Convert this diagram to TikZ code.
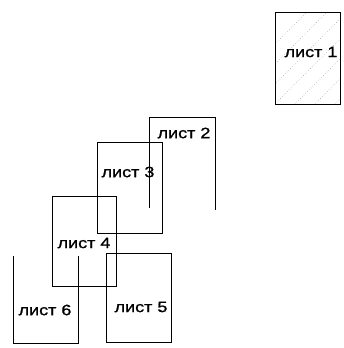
\documentclass[tikz,border=0pt]{standalone}
\usepackage{fontspec}
\setmainfont{Liberation Sans}[FakeStretch=1.2, FakeBold=1.2]
\usepackage{tikz}
\usetikzlibrary{calc}
\definecolor{hatchGray}{RGB}{150,150,150}

\begin{document}
\begin{tikzpicture}[x=1pt, y=-1pt, line width=0.8pt,
    lbl/.style={font=\fontsize{15}{17}\selectfont, inner sep=0pt}]
    \useasboundingbox (0,0) rectangle (343,348);
    % sheet 1, hatched
    \begin{scope}
        \clip (275,12) rectangle (340,104);
        \foreach \s in {-60,-40,...,140}
            \draw[hatchGray, dotted, line width=0.5pt] (275+\s,104) -- ++(110,-110);
    \end{scope}
    \draw (275,12) rectangle (340,104);
    % sheet 2, open bottom
    \draw (149,208) -- (149,117) -- (215,117) -- (215,210);
    % sheets 3, 4, 5
    \draw (97,142) rectangle (162,233);
    \draw (52,196) rectangle (116,286);
    \draw (106,253) rectangle (171,342);
    % sheet 6, open top
    \draw (13,256) -- (13,343) -- (78,343) -- (78,256);
    % labels
    \node[lbl] (l1) at (311,52) {лист 1};
    \node[lbl] (l2) at (184,133) {лист 2};
    \node[lbl] (l3) at (128,172) {лист 3};
    \node[lbl] (l4) at (84,243) {лист 4};
    \node[lbl] (l5) at (141,307) {лист 5};
    \node[lbl] (l6) at (45,310) {лист 6};
\end{tikzpicture}
\end{document}
